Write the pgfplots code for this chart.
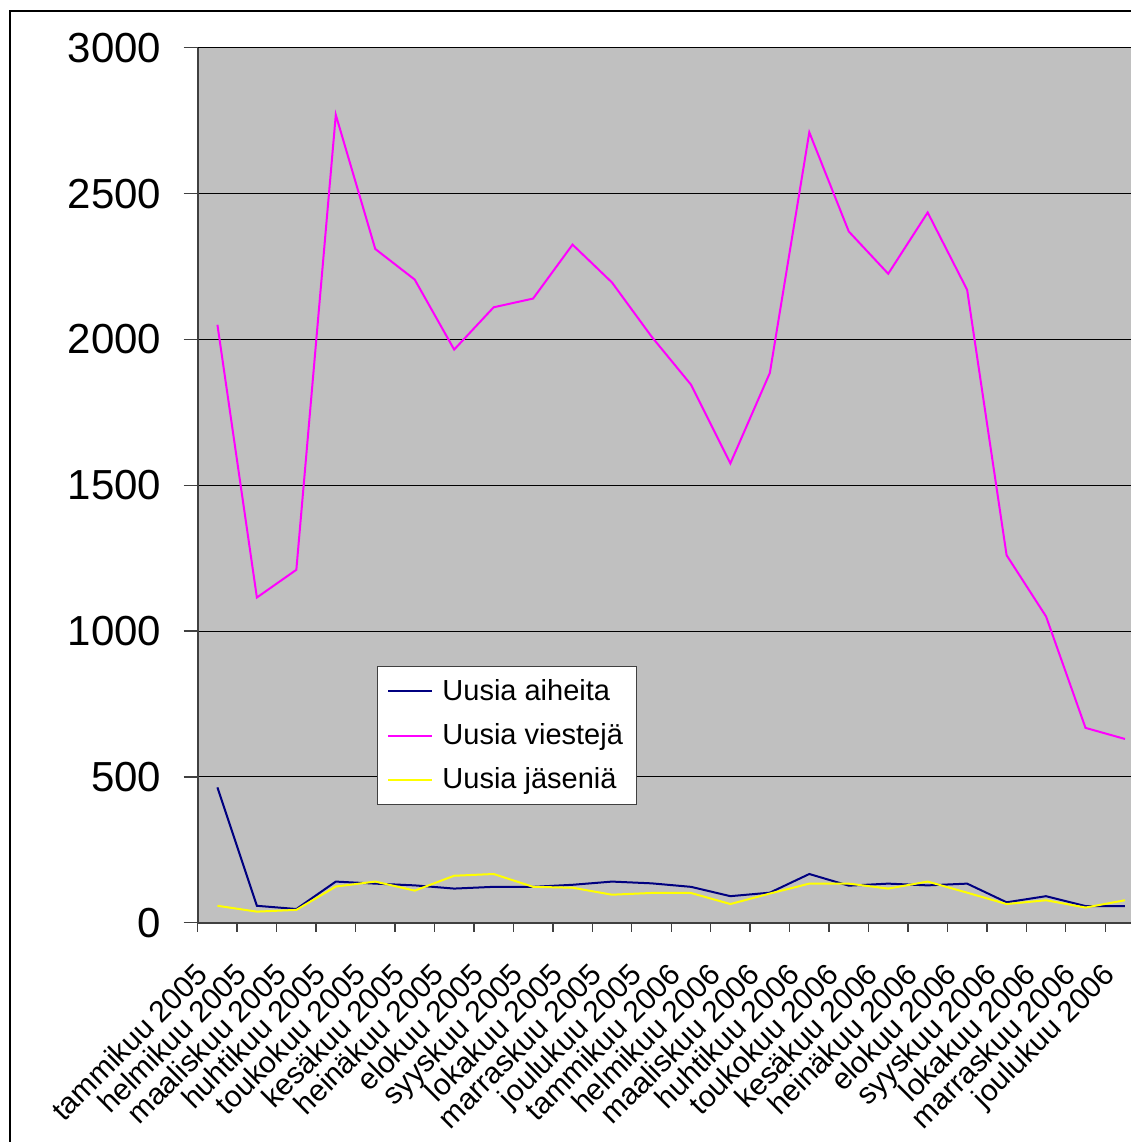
\documentclass[border=0pt]{standalone}
\usepackage{fontspec}
\setmainfont{Liberation Sans}
\usepackage{pgfplots}
\usepackage{pgfplotstable}
\pgfplotsset{compat=1.18}

\definecolor{plotbg}{HTML}{C0C0C0}
\definecolor{axisgray}{HTML}{404040}
\definecolor{aiheet}{HTML}{000080}
\definecolor{viestit}{HTML}{FF00FF}
\definecolor{jasenet}{HTML}{FFFF00}

% Kuukausittaiset tilastot
\pgfplotstableread{
k aiheita viesteja jasenia
0  464 2050  58
1   58 1115  38
2   47 1210  44
3  141 2770 124
4  134 2310 141
5  128 2205 110
6  117 1965 161
7  123 2110 167
8  123 2140 123
9  130 2325 120
10 141 2195  96
11 135 2010 102
12 123 1845 102
13  91 1575  64
14 103 1885 100
15 167 2710 134
16 127 2370 134
17 134 2225 117
18 128 2435 141
19 134 2170 103
20  70 1260  64
21  91 1050  77
22  57  668  52
23  57  630  77
}\tilastot

\begin{document}
\begin{tikzpicture}[x=0.5pt,y=-0.5pt]
\useasboundingbox (0,0) rectangle (1131,1142);
\clip (0,0) rectangle (1131,1142);
% kaavion ulkokehys
\draw[line width=1pt, black] (9.5,1200) -- (9.5,11) -- (1200,11);
\begin{axis}[
  at={(98.85pt,-461.35pt)}, anchor=south west,
  scale only axis,
  width=473.5pt, height=437.5pt,
  xmin=-0.5, xmax=23.5,
  ymin=0, ymax=3000,
  axis background/.style={fill=plotbg},
  axis x line*=bottom, axis y line*=left,
  axis line style={draw=axisgray, line width=1pt},
  tick align=outside,
  major tick length=7pt,
  minor tick length=4.5pt,
  tick style={draw=axisgray, line width=0.7pt},
  major x tick style={draw=none},
  xtick={0,...,23},
  minor xtick={-0.5,0.5,...,23.5},
  xticklabels={tammikuu 2005, helmikuu 2005, maaliskuu 2005, huhtikuu 2005,
    toukokuu 2005, kesäkuu 2005, heinäkuu 2005, elokuu 2005, syyskuu 2005,
    lokakuu 2005, marraskuu 2005, joulukuu 2005, tammikuu 2006, helmikuu 2006,
    maaliskuu 2006, huhtikuu 2006, toukokuu 2006, kesäkuu 2006, heinäkuu 2006,
    elokuu 2006, syyskuu 2006, lokakuu 2006, marraskuu 2006, joulukuu 2006},
  xticklabel style={rotate=45, anchor=north east, inner sep=0pt,
    xshift=-17pt, yshift=-0.2pt,
    font=\fontsize{15pt}{15pt}\selectfont},
  ytick={0,500,...,3000},
  yticklabel style={inner sep=0pt, xshift=-11pt,
    font=\fontsize{21pt}{21pt}\selectfont},
  /pgf/number format/assume math mode=true,
  /pgf/number format/1000 sep={},
  ymajorgrids,
  major grid style={black, line width=0.5pt},
  legend style={at={(0.1893,0.2934)}, anchor=north west,
    draw=axisgray, line width=0.5pt, fill=white,
    font=\fontsize{14.5pt}{14.5pt}\selectfont,
    inner xsep=5pt, inner ysep=4.5pt, row sep=6pt},
  legend cell align=left,
  legend image code/.code={\draw[#1, line width=1pt] (0pt,0pt) -- (22pt,0pt);
    \path (24.5pt,0pt);},
  every axis plot/.append style={line width=1pt},
]
\addplot[aiheet] table[x=k, y=aiheita] {\tilastot};
\addlegendentry{Uusia aiheita}
\addplot[viestit] table[x=k, y=viesteja] {\tilastot};
\addlegendentry{Uusia viestejä}
\addplot[jasenet] table[x=k, y=jasenia] {\tilastot};
\addlegendentry{Uusia jäseniä}
\end{axis}
\end{tikzpicture}
\end{document}
